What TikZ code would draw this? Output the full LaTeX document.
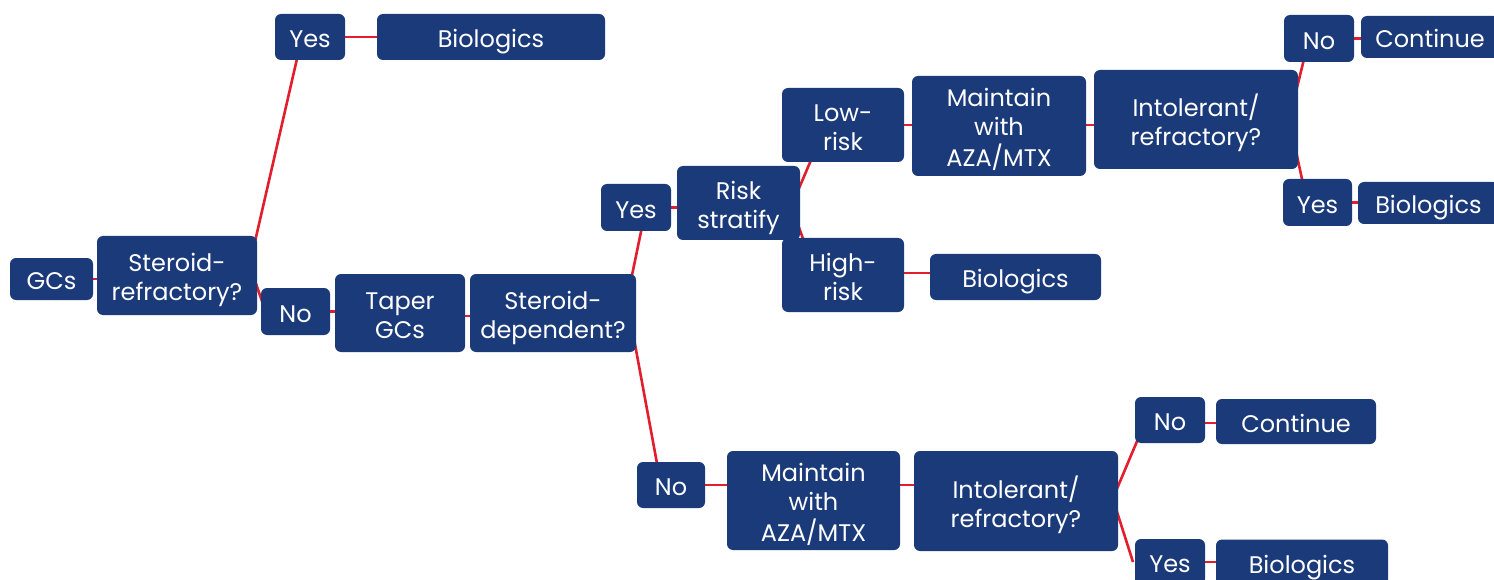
\documentclass[tikz,border=0pt]{standalone}
\usepackage{fontspec}
\setmainfont{Poppins}
\usetikzlibrary{calc,backgrounds}
\pgfdeclarelayer{paper}
\pgfsetlayers{paper,background,main}
\definecolor{boxblue}{RGB}{27,58,122}
\definecolor{linkred}{RGB}{226,30,45}
\newcommand\bxt[1]{\raisebox{-5pt}[\height][\depth]{\begin{tabular}{@{}c@{}}#1\end{tabular}}}
\tikzset{
  bx/.style={fill=boxblue, text=white, rounded corners=6pt, inner sep=0pt,
    font=\fontsize{24}{29}\selectfont},
  link/.style={draw=linkred, line width=2.6pt}
}
\begin{document}
\begin{tikzpicture}[x=1pt,y=-1pt]
\clip (0,0) rectangle (1494,580);
\useasboundingbox (0,0) rectangle (1494,580);
\begin{pgfonlayer}{paper}
\fill[white] (0,0) rectangle (1494,580);
\end{pgfonlayer}
% nodes
\node[bx, minimum width=83pt, minimum height=42pt] (gcs) at (51.5,279) {\bxt{GCs}};
\node[bx, minimum width=160pt, minimum height=79pt] (sr) at (177,275.5) {\bxt{Steroid-\\refractory?}};
\node[bx, minimum width=70pt, minimum height=46pt] (yes1) at (310,37) {\bxt{Yes}};
\node[bx, minimum width=228pt, minimum height=46pt] (bio1) at (491,37) {\bxt{Biologics}};
\node[bx, minimum width=69pt, minimum height=47pt] (no1) at (295.5,311.5) {\bxt{No}};
\node[bx, minimum width=130pt, minimum height=78pt] (taper) at (400,313) {\bxt{Taper\\GCs}};
\node[bx, minimum width=166pt, minimum height=78pt] (sd) at (553,313) {\bxt{Steroid-\\dependent?}};
\node[bx, minimum width=70pt, minimum height=47pt] (yes2) at (636,207.5) {\bxt{Yes}};
\node[bx, minimum width=123pt, minimum height=74pt] (risk) at (738.5,203) {\bxt{Risk\\stratify}};
\node[bx, minimum width=122pt, minimum height=74pt] (low) at (843,125) {\bxt{Low-\\risk}};
\node[bx, minimum width=122pt, minimum height=74pt] (high) at (843,275) {\bxt{High-\\risk}};
\node[bx, minimum width=174pt, minimum height=100pt] (main1) at (999,126) {\bxt{Maintain\\with\\AZA/MTX}};
\node[bx, minimum width=171pt, minimum height=46pt] (bio2) at (1015.5,277) {\bxt{Biologics}};
\node[bx, minimum width=204pt, minimum height=99pt] (int1) at (1196,119.5) {\bxt{Intolerant/\\refractory?}};
\node[bx, minimum width=70pt, minimum height=47pt] (no2) at (1319,38.5) {\bxt{No}};
\node[bx, minimum width=138pt, minimum height=42pt] (cont1) at (1430,37) {\bxt{Continue}};
\node[bx, minimum width=69pt, minimum height=47pt] (yes3) at (1317.5,202.5) {\bxt{Yes}};
\node[bx, minimum width=141pt, minimum height=42pt] (bio3) at (1428.5,203) {\bxt{Biologics}};
\node[bx, minimum width=68pt, minimum height=46pt] (no3) at (671,485) {\bxt{No}};
\node[bx, minimum width=173pt, minimum height=99pt] (main2) at (813.5,500.5) {\bxt{Maintain\\with\\AZA/MTX}};
\node[bx, minimum width=204pt, minimum height=100pt] (int2) at (1016,501) {\bxt{Intolerant/\\refractory?}};
\node[bx, minimum width=70pt, minimum height=46pt] (no4) at (1170,420) {\bxt{No}};
\node[bx, minimum width=160pt, minimum height=45pt] (cont2) at (1296,421.5) {\bxt{Continue}};
\node[bx, minimum width=70pt, minimum height=46pt] (yes4) at (1170,562) {\bxt{Yes}};
\node[bx, minimum width=172pt, minimum height=46pt] (bio4) at (1302,562.5) {\bxt{Biologics}};
% connectors
\begin{pgfonlayer}{background}
\draw[link] (gcs.center) -- (gcs.center -| sr.center);
\draw[link] ($(sr.east)+(-10,0)$) -- ($(yes1.center)+(-8,0)$);
\draw[link] ($(sr.east)+(-4,0)$) -- ($(no1.center)+(-30,0)$);
\draw[link] (yes1.center) -- (yes1.center -| bio1.center);
\draw[link] (no1.center) -- (no1.center -| taper.center);
\draw[link] ($(taper.center)+(0,3)$) -- ($(sd.center)+(0,3)$);
\draw[link] ($(sd.east)+(-12,0)$) -- ($(yes2.center)+(10,0)$);
\draw[link] ($(sd.east)+(-7,0)$) -- ($(no3.center)+(-10,0)$);
\draw[link] (yes2.center) -- (yes2.center -| risk.center);
\draw[link] ($(risk.east)+(-7.5,0)$) -- ($(low.center)+(-17,0)$);
\draw[link] ($(risk.east)+(-10,0)$) -- ($(high.center)+(-27,0)$);
\draw[link] (low.center) -- (low.center -| main1.center);
\draw[link] (low.center -| main1.center) -- (low.center -| int1.center);
\draw[link] ($(high.center)+(0,-2)$) -- ($(high.center -| bio2.center)+(0,-2)$);
\draw[link] ($(int1.east)+(-9,0)$) -- ($(no2.center)+(-10,0)$);
\draw[link] ($(int1.east)+(-9,0)$) -- ($(yes3.center)+(-10.5,0)$);
\draw[link] (no2.center) -- (no2.center -| cont1.center);
\draw[link] (yes3.center) -- (yes3.center -| bio3.center);
\draw[link] (no3.center) -- (no3.center -| main2.center);
\draw[link] (no3.center -| main2.center) -- (no3.center -| int2.center);
\draw[link] ($(int2.east)+(-6,-1)$) -- ($(no4.center)+(-24,0)$);
\draw[link] ($(int2.east)+(-5,-1)$) -- ($(yes4.center)+(-37,0)$);
\draw[link] ($(no4.center)+(0,3)$) -- ($(no4.center -| cont2.center)+(0,3)$);
\draw[link] (yes4.center) -- (yes4.center -| bio4.center);
\end{pgfonlayer}
\end{tikzpicture}
\end{document}
